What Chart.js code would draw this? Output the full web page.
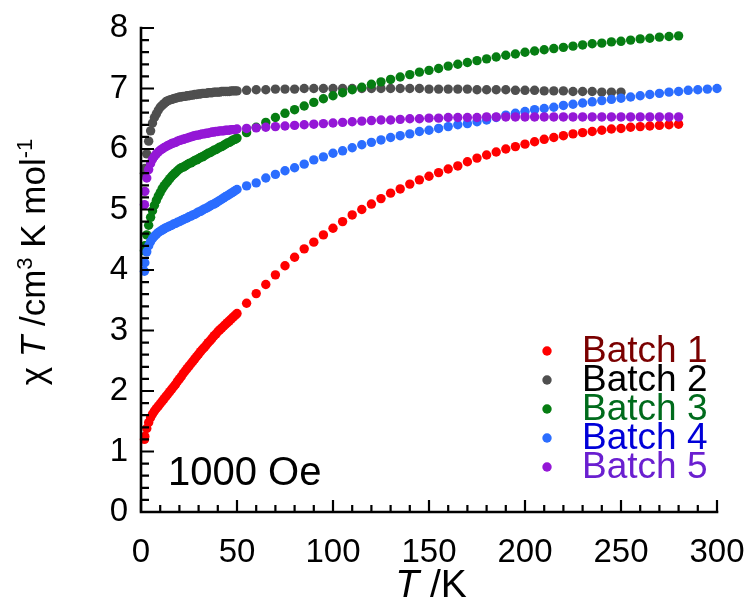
<!DOCTYPE html>
<html>
<head>
<meta charset="utf-8">
<script src="https://cdn.jsdelivr.net/npm/chart.js@4.4.0/dist/chart.umd.min.js"></script>
<style>
	body { margin: 0; background: #fff; }
	#wrap { width: 747px; height: 608px; }
</style>
</head>
<body>
<div id="wrap"><canvas id="myChart" width="747" height="608"></canvas></div>
<script>
/* 資料開始 */
// 低溫區 (每 1 K) 與高溫區 (每 5 K) 的溫度
var tempLow = [1.8, 2, 3, 4, 5, 6, 7, 8, 9, 10, 11, 12, 13, 14, 15, 16, 17, 18, 19, 20,
	21, 22, 23, 24, 25, 26, 27, 28, 29, 30, 31, 32, 33, 34, 35, 36, 37, 38, 39, 40,
	41, 42, 43, 44, 45, 46, 47, 48, 49, 50];
var tempHigh = [55, 60, 65, 70, 75, 80, 85, 90, 95, 100, 105, 110, 115, 120, 125, 130, 135, 140, 145, 150,
	155, 160, 165, 170, 175, 180, 185, 190, 195, 200, 205, 210, 215, 220, 225, 230, 235, 240, 245, 250,
	255, 260, 265, 270, 275, 280, 285, 290, 295, 300];

var batchNames = ['Batch 1', 'Batch 2', 'Batch 3', 'Batch 4', 'Batch 5'];
var dotColors = ['#ff0000', '#4f4f4f', '#067d12', '#2b6dff', '#9417d6'];
var textColors = ['#7a0000', '#000000', '#006b1c', '#0000d8', '#6a1fd0'];

// Batch 1
var batch1Low = [1.20, 1.25, 1.38, 1.48, 1.56, 1.62, 1.67, 1.71, 1.75, 1.79, 1.83, 1.87, 1.91, 1.95, 1.99, 2.03, 2.07, 2.11, 2.16, 2.20,
	2.24, 2.29, 2.33, 2.37, 2.41, 2.45, 2.49, 2.53, 2.57, 2.61, 2.65, 2.69, 2.72, 2.76, 2.80, 2.83, 2.87, 2.91, 2.94, 2.98,
	3.01, 3.04, 3.07, 3.10, 3.13, 3.16, 3.19, 3.22, 3.25, 3.28];
var batch1High = [3.45, 3.61, 3.76, 3.92, 4.07, 4.21, 4.35, 4.46, 4.58, 4.69, 4.80, 4.91, 5.00, 5.09, 5.18, 5.27, 5.34, 5.42, 5.49, 5.55,
	5.61, 5.67, 5.72, 5.79, 5.85, 5.90, 5.95, 6.00, 6.04, 6.08, 6.12, 6.16, 6.19, 6.22, 6.25, 6.27, 6.29, 6.31, 6.33, 6.34,
	6.36, 6.37, 6.38, 6.39, 6.40, 6.41];
// Batch 2
var batch2Low = [5.60, 5.68, 5.92, 6.13, 6.30, 6.43, 6.52, 6.58, 6.64, 6.69, 6.72, 6.75, 6.78, 6.80, 6.81, 6.82, 6.83, 6.84, 6.85, 6.86,
	6.86, 6.87, 6.87, 6.88, 6.88, 6.89, 6.89, 6.90, 6.90, 6.91, 6.91, 6.92, 6.92, 6.92, 6.93, 6.93, 6.93, 6.94, 6.94, 6.94,
	6.94, 6.95, 6.95, 6.95, 6.95, 6.95, 6.96, 6.96, 6.96, 6.96];
var batch2High = [6.97, 6.98, 6.98, 6.99, 6.99, 6.99, 7.00, 7.00, 7.00, 7.00, 7.00, 7.00, 7.00, 7.00, 7.00, 7.00, 7.00, 7.00, 7.00, 6.99,
	6.99, 6.99, 6.99, 6.99, 6.98, 6.98, 6.98, 6.98, 6.97, 6.97, 6.97, 6.96, 6.96, 6.96, 6.95, 6.95, 6.95, 6.94, 6.94, 6.94];
// Batch 3
var batch3Low = [4.32, 4.40, 4.58, 4.74, 4.87, 4.98, 5.07, 5.15, 5.22, 5.28, 5.34, 5.39, 5.43, 5.47, 5.51, 5.55, 5.58, 5.61, 5.64, 5.67,
	5.69, 5.70, 5.72, 5.74, 5.76, 5.77, 5.79, 5.81, 5.82, 5.84, 5.86, 5.87, 5.89, 5.91, 5.93, 5.94, 5.96, 5.98, 5.99, 6.01,
	6.03, 6.04, 6.06, 6.08, 6.10, 6.11, 6.13, 6.15, 6.16, 6.18];
var batch3High = [6.27, 6.36, 6.44, 6.52, 6.59, 6.65, 6.71, 6.77, 6.83, 6.88, 6.93, 6.98, 7.02, 7.07, 7.11, 7.15, 7.19, 7.23, 7.27, 7.30,
	7.33, 7.37, 7.40, 7.43, 7.46, 7.49, 7.52, 7.55, 7.57, 7.60, 7.62, 7.64, 7.66, 7.68, 7.70, 7.72, 7.74, 7.75, 7.77, 7.78,
	7.80, 7.82, 7.83, 7.85, 7.86, 7.87];
// Batch 4
var batch4Low = [3.98, 4.12, 4.30, 4.40, 4.47, 4.52, 4.56, 4.59, 4.62, 4.64, 4.66, 4.68, 4.70, 4.71, 4.73, 4.74, 4.76, 4.77, 4.79, 4.80,
	4.82, 4.83, 4.85, 4.86, 4.88, 4.89, 4.91, 4.92, 4.94, 4.96, 4.97, 4.99, 5.01, 5.02, 5.04, 5.06, 5.08, 5.09, 5.11, 5.13,
	5.15, 5.17, 5.19, 5.21, 5.23, 5.25, 5.27, 5.29, 5.31, 5.33];
var batch4High = [5.39, 5.44, 5.52, 5.58, 5.64, 5.69, 5.75, 5.82, 5.87, 5.93, 5.97, 6.02, 6.07, 6.11, 6.15, 6.19, 6.22, 6.25, 6.29, 6.31,
	6.34, 6.37, 6.40, 6.42, 6.45, 6.48, 6.52, 6.56, 6.59, 6.62, 6.65, 6.67, 6.69, 6.72, 6.74, 6.76, 6.78, 6.80, 6.82, 6.84,
	6.86, 6.88, 6.90, 6.92, 6.94, 6.95, 6.97, 6.98, 6.99, 7.00];
// Batch 5
var batch5Low = [5.08, 5.30, 5.52, 5.66, 5.76, 5.83, 5.88, 5.92, 5.95, 5.98, 6.00, 6.02, 6.04, 6.06, 6.07, 6.09, 6.10, 6.11, 6.13, 6.14,
	6.15, 6.16, 6.17, 6.18, 6.19, 6.20, 6.21, 6.22, 6.23, 6.23, 6.24, 6.25, 6.25, 6.26, 6.26, 6.27, 6.28, 6.28, 6.29, 6.29,
	6.30, 6.30, 6.30, 6.31, 6.31, 6.31, 6.32, 6.32, 6.32, 6.33];
var batch5High = [6.34, 6.35, 6.36, 6.37, 6.38, 6.39, 6.40, 6.41, 6.42, 6.43, 6.44, 6.45, 6.46, 6.47, 6.48, 6.48, 6.49, 6.50, 6.50, 6.51,
	6.51, 6.52, 6.52, 6.52, 6.52, 6.53, 6.53, 6.53, 6.53, 6.53, 6.53, 6.53, 6.53, 6.53, 6.53, 6.53, 6.53, 6.53, 6.53, 6.53,
	6.53, 6.53, 6.53, 6.53, 6.53, 6.53];

var xTicks = [0, 50, 100, 150, 200, 250, 300];
var yTicks = [0, 1, 2, 3, 4, 5, 6, 7, 8];
/* 資料結束 */

var fontFamily = '"Liberation Sans", Arial, Helvetica, sans-serif';

// 把溫度與數值合成 {x, y}
function toPoints(lowValues, highValues) {
	var pts = [];
	for (var i = 0; i < lowValues.length; i++) {
		pts.push({ x: tempLow[i], y: lowValues[i] });
	}
	for (var j = 0; j < highValues.length; j++) {
		pts.push({ x: tempHigh[j], y: highValues[j] });
	}
	return pts;
}

var allSeries = [
	[batch1Low, batch1High],
	[batch2Low, batch2High],
	[batch3Low, batch3High],
	[batch4Low, batch4High],
	[batch5Low, batch5High]
];

var datasets = [];
for (var k = 0; k < allSeries.length; k++) {
	datasets.push({
		label: batchNames[k],
		data: toPoints(allSeries[k][0], allSeries[k][1]),
		backgroundColor: dotColors[k],
		borderWidth: 0,
		pointRadius: 4.7,
		pointHoverRadius: 4.7,
		clip: false,
		order: allSeries.length - k // 後面的批次畫在上面
	});
}

// 坐標軸、刻度、標題、圖例都自己畫
var decorPlugin = {
	id: 'decor',
	afterDatasetsDraw: function(chart) {
		var ctx = chart.ctx;
		var xs = chart.scales.x;
		var ys = chart.scales.y;
		var left = chart.chartArea.left;
		var bottom = chart.chartArea.bottom;
		var top = chart.chartArea.top;
		var right = chart.chartArea.right;

		ctx.save();
		ctx.strokeStyle = '#000';
		ctx.lineWidth = 2.6;
		ctx.lineCap = 'square';
		ctx.beginPath();
		ctx.moveTo(left, top);
		ctx.lineTo(left, bottom);
		ctx.lineTo(right, bottom);
		ctx.stroke();

		// y 軸刻度 (主 1, 次 0.2)
		ctx.lineWidth = 2.2;
		ctx.lineCap = 'butt';
		ctx.beginPath();
		for (var i = 0; i <= 40; i++) {
			var py = ys.getPixelForValue(i * 0.2);
			var len = (i % 5 === 0) ? 13 : 8;
			ctx.moveTo(left, py);
			ctx.lineTo(left + len, py);
		}
		// x 軸刻度 (主 50, 次 10)
		for (var j = 0; j <= 30; j++) {
			var px = xs.getPixelForValue(j * 10);
			var lenX = (j % 5 === 0) ? 12 : 7;
			ctx.moveTo(px, bottom);
			ctx.lineTo(px, bottom - lenX);
		}
		ctx.stroke();

		// y 軸標題
		ctx.fillStyle = '#000';
		ctx.textBaseline = 'alphabetic';
		var parts = [
			{ t: 'χ ', f: '35px ' + fontFamily, dy: 0 },
			{ t: 'T', f: 'italic 35px ' + fontFamily, dy: 0 },
			{ t: ' /cm', f: '35px ' + fontFamily, dy: 0 },
			{ t: '3', f: '22px ' + fontFamily, dy: -13 },
			{ t: ' K mol', f: '35px ' + fontFamily, dy: 0 },
			{ t: '-1', f: '22px ' + fontFamily, dy: -13 }
		];
		var total = 0;
		for (var p = 0; p < parts.length; p++) {
			ctx.font = parts[p].f;
			parts[p].w = ctx.measureText(parts[p].t).width;
			total += parts[p].w;
		}
		ctx.translate(45, 262);
		ctx.rotate(-Math.PI / 2);
		var cx = -total / 2;
		for (var q = 0; q < parts.length; q++) {
			ctx.font = parts[q].f;
			ctx.fillText(parts[q].t, cx, parts[q].dy);
			cx += parts[q].w;
		}
		ctx.setTransform(1, 0, 0, 1, 0, 0);

		// x 軸標題
		ctx.font = 'italic 39px ' + fontFamily;
		var wT = ctx.measureText('T').width;
		ctx.font = '39px ' + fontFamily;
		var wK = ctx.measureText(' /K').width;
		var sx = 431 - (wT + wK) / 2;
		ctx.font = 'italic 39px ' + fontFamily;
		ctx.fillText('T', sx, 597);
		ctx.font = '39px ' + fontFamily;
		ctx.fillText(' /K', sx + wT, 597);

		// 磁場標示
		ctx.font = '40px ' + fontFamily;
		ctx.fillText('1000 Oe', 168, 485);

		// 圖例
		ctx.font = '37px ' + fontFamily;
		ctx.textBaseline = 'middle';
		for (var r = 0; r < chart.data.datasets.length; r++) {
			var rowY = 351 + r * 29;
			ctx.fillStyle = chart.data.datasets[r].backgroundColor;
			ctx.beginPath();
			ctx.arc(547, rowY, 4.7, 0, Math.PI * 2);
			ctx.fill();
			ctx.fillStyle = textColors[r];
			ctx.fillText(chart.data.datasets[r].label, 582, rowY + 1);
		}
		ctx.restore();
	}
};

var myChart = new Chart(document.getElementById('myChart'), {
	type: 'scatter',
	data: { datasets: datasets },
	options: {
		responsive: false,
		animation: false,
		devicePixelRatio: 1,
		layout: { padding: { left: 0, right: 30, top: 28, bottom: 0 } },
		plugins: {
			legend: { display: false },
			tooltip: { enabled: false }
		},
		scales: {
			x: {
				type: 'linear',
				min: 0,
				max: 300,
				afterFit: function(scale) {
					scale.height = 96;
					scale.paddingLeft = 0;
					scale.paddingRight = 0;
				},
				afterBuildTicks: function(scale) {
					scale.ticks = xTicks.map(function(v) { return { value: v }; });
				},
				grid: { display: false, drawTicks: false },
				border: { display: false },
				ticks: {
					padding: 21,
					color: '#000',
					maxRotation: 0,
					autoSkip: false,
					font: { family: fontFamily, size: 33 }
				}
			},
			y: {
				type: 'linear',
				min: 0,
				max: 8,
				afterFit: function(scale) {
					scale.width = 141;
					scale.paddingTop = 0;
					scale.paddingBottom = 0;
				},
				afterBuildTicks: function(scale) {
					scale.ticks = yTicks.map(function(v) { return { value: v }; });
				},
				grid: { display: false, drawTicks: false },
				border: { display: false },
				ticks: {
					padding: 13,
					color: '#000',
					autoSkip: false,
					font: { family: fontFamily, size: 33 }
				}
			}
		}
	},
	plugins: [decorPlugin]
});
</script>
</body>
</html>
